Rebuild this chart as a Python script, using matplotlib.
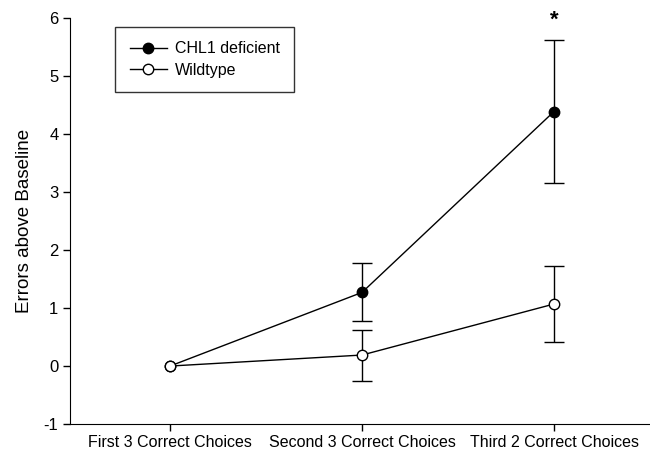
import matplotlib
matplotlib.use("Agg")
import matplotlib.pyplot as plt
from matplotlib.lines import Line2D

plt.rcParams['font.family'] = ['Liberation Sans', 'DejaVu Sans']
plt.rcParams['axes.unicode_minus'] = False

# trial blocks and mean errors above baseline (+/- SEM)
blocks = ['First 3 Correct Choices', 'Second 3 Correct Choices', 'Third 2 Correct Choices']
chl1_mean = [0.0, 1.27, 4.39]
chl1_err = [0.0, 0.50, 1.24]
wt_mean = [0.0, 0.19, 1.07]
wt_err = [0.0, 0.44, 0.66]

x = list(range(len(blocks)))

fig = plt.figure(figsize=(6.5, 4.54), dpi=100)
ax = fig.add_axes([0.108, 0.066, 0.892, 0.894])


def draw_group(mean, err, face, z):
    ax.plot(x, mean, color='black', lw=1.0, marker='o', markersize=7.5,
            markerfacecolor=face, markeredgecolor='black', zorder=z)
    # error bars only where there is spread
    ex = [xi for xi, e in zip(x, err) if e > 0]
    ey = [m for m, e in zip(mean, err) if e > 0]
    ee = [e for e in err if e > 0]
    ax.errorbar(ex, ey, yerr=ee, fmt='none', ecolor='black',
                elinewidth=1.0, capsize=7, capthick=1.0, zorder=z - 1)


draw_group(chl1_mean, chl1_err, 'black', 3)
draw_group(wt_mean, wt_err, 'white', 5)

# significance marker over the last block
ax.text(x[2], chl1_mean[2] + chl1_err[2] + 0.15, '*', ha='center',
        va='bottom', fontsize=16, fontweight='bold')

ax.set_xlim(-0.52, 2.5)
ax.set_ylim(-1, 6)
ax.set_xticks(x)
ax.set_xticklabels(blocks, fontsize=11.5)
ax.set_yticks(range(-1, 7))
ax.tick_params(axis='y', labelsize=12, length=5, width=1)
ax.tick_params(axis='x', length=5, width=1, pad=3)
ax.set_ylabel('Errors above Baseline', fontsize=13.5, labelpad=8)

ax.spines['top'].set_visible(False)
ax.spines['right'].set_visible(False)

handles = [
    Line2D([], [], color='black', lw=1.0, marker='o', markersize=7.5,
           markerfacecolor='black', markeredgecolor='black'),
    Line2D([], [], color='black', lw=1.0, marker='o', markersize=7.5,
           markerfacecolor='white', markeredgecolor='black'),
]
leg = ax.legend(handles, ['CHL1 deficient', 'Wildtype'], loc='upper left',
                bbox_to_anchor=(0.078, 0.978), fontsize=11.5,
                frameon=True, fancybox=False, edgecolor='black',
                handlelength=2.3, handletextpad=0.5, borderpad=0.9,
                labelspacing=0.4, borderaxespad=0)
leg.get_frame().set_linewidth(1.0)

fig.savefig('out.png', dpi=100)
